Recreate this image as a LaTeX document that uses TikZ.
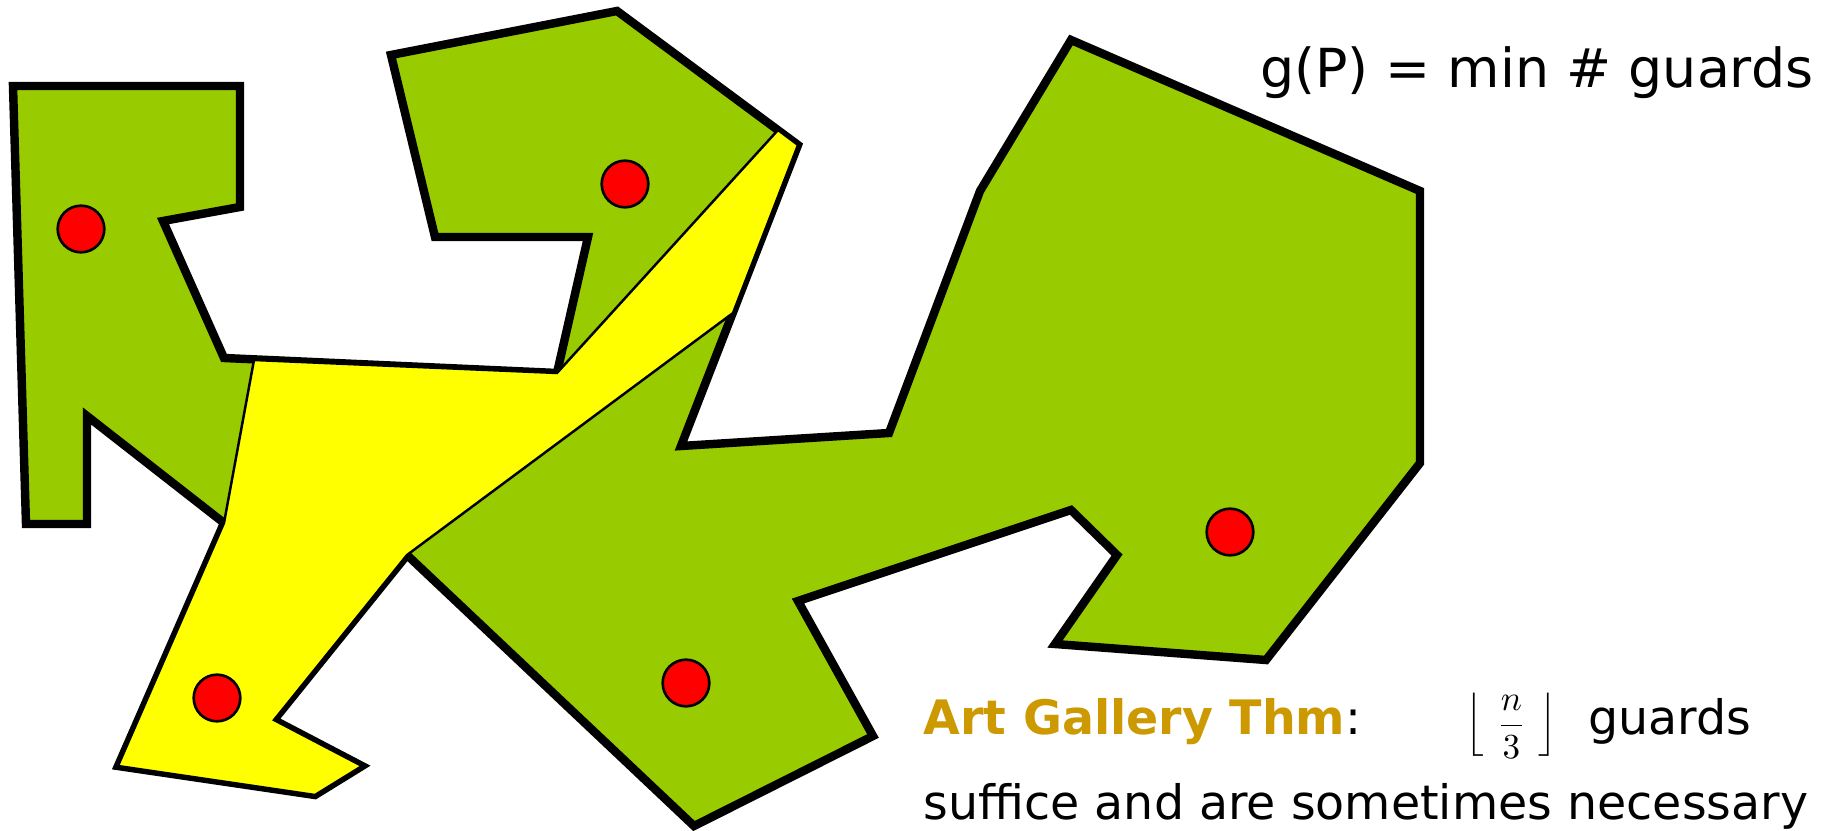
\documentclass[tikz,border=0pt]{standalone}
\usepackage[no-math]{fontspec}
\setmainfont{DejaVu Sans}
\usetikzlibrary{positioning}
\usepackage{xcolor}
\definecolor{Lime}{HTML}{99CC00}
\definecolor{Lemon}{HTML}{FFFF00}
\definecolor{GuardRed}{HTML}{FF0000}
\definecolor{Ochre}{HTML}{CC9900}
\tikzset{
 gallery/.style={draw=black, fill=Lime, line width=2.4pt},
 visible/.style={draw=black, fill=Lemon, line width=0.7pt},
 guard/.style={circle, draw=black, fill=GuardRed, line width=0.75pt, minimum size=0.466cm, inner sep=0pt},
 headline/.style={inner sep=0pt, font=\fontsize{15.3}{18}\selectfont},
 thmtext/.style={inner sep=0pt, font=\fontsize{13.5}{16}\selectfont},
 floortext/.style={inner sep=0pt, font=\normalsize}
}
\begin{document}
\begin{tikzpicture}[x=0.01cm, y=-0.01cm]
\useasboundingbox (0,0) rectangle (1825,831);
% the gallery P
\draw[gallery] (13,86) -- (240,86) -- (240,207) -- (163,221) -- (224,358) -- (557,373)
  -- (588,237) -- (435,237) -- (391,55) -- (617,11) -- (798,145) -- (681,446)
  -- (889,433) -- (980,191) -- (1071,40) -- (1420,191) -- (1420,463) -- (1266,660)
  -- (1055,644) -- (1117,555) -- (1071,510) -- (798,601) -- (873,736) -- (694,826)
  -- (407,555) -- (274,720) -- (362,766) -- (315,795) -- (118,766) -- (224,523)
  -- (87,416) -- (87,524) -- (26,524) -- cycle;
% region seen from one guard
\draw[visible] (254,360) -- (557,373) -- (778,130) -- (798,145) -- (733,313)
  -- (407,555) -- (274,720) -- (362,766) -- (315,795) -- (118,766) -- (224,523) -- cycle;
% guards
\node[guard] (g1) at (81,229) {};
\node[guard] (g2) at (625,184) {};
\node[guard] (g3) at (217,698) {};
\node[guard] (g4) at (686,683) {};
\node[guard] (g5) at (1230,532) {};
% texts
\node[headline, anchor=base east] (gp) at (1814,88) {g(P) = min \# guards};
\node[thmtext, anchor=base west] (thm) at (923,734) {\textcolor{Ochre}{\bfseries Art Gallery Thm}:};
\node[floortext, right=1.03cm of thm.base east, anchor=base west] (bound) {$\displaystyle\left\lfloor\hspace{3.5pt}\frac{n}{3}\hspace{3.5pt}\right\rfloor$};
\node[thmtext, right=0.3cm of bound.base east, anchor=base west] (suff) {guards};
\node[thmtext, anchor=base west] (need) at (923,819) {suffice and are sometimes necessary};
\end{tikzpicture}
\end{document}
